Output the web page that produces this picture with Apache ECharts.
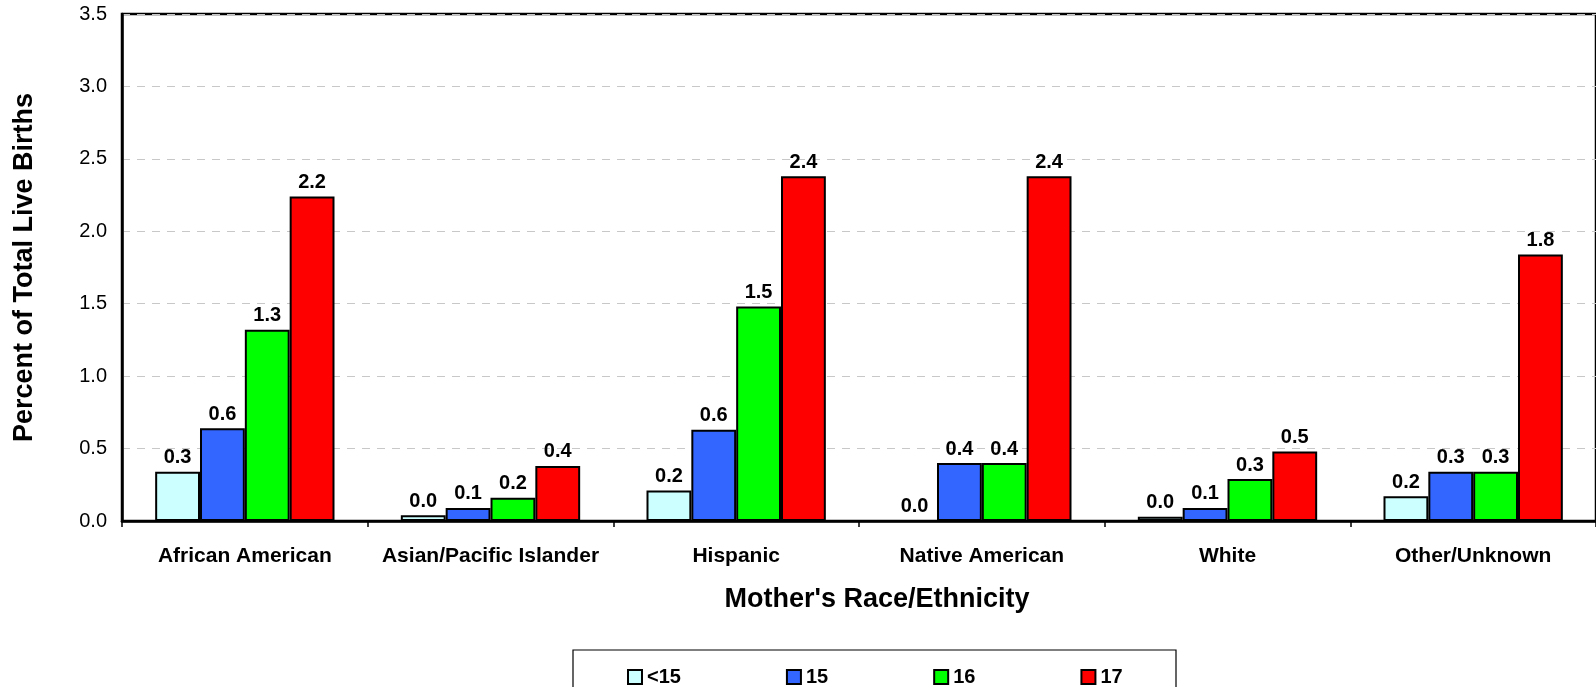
<!DOCTYPE html>
<html>
<head>
<meta charset="utf-8">
<script src="https://cdn.jsdelivr.net/npm/echarts@6/dist/echarts.min.js"></script>
<style>
html,body{margin:0;padding:0;background:#fff;}
#chart{width:1596px;height:687px;}
</style>
</head>
<body>
<div id="chart"></div>
<script>
const categories = ['African American', 'Asian/Pacific Islander', 'Hispanic', 'Native American', 'White', 'Other/Unknown'];
const seriesNames = ['<15', '15', '16', '17'];
const valuesUnder15 = [0.34, 0.04, 0.21, 0.0, 0.03, 0.17];
const values15 = [0.64, 0.09, 0.63, 0.40, 0.09, 0.34];
const values16 = [1.32, 0.16, 1.48, 0.40, 0.29, 0.34];
const values17 = [2.24, 0.38, 2.38, 2.38, 0.48, 1.84];
const yTicks = [0, 0.5, 1.0, 1.5, 2.0, 2.5, 3.0, 3.5];

const colors = ['#CCFFFF', '#3366FF', '#00FF00', '#FF0000'];
const allValues = [valuesUnder15, values15, values16, values17];
const FONT = '"Liberation Sans", Arial, sans-serif';

const chart = echarts.init(document.getElementById('chart'));
chart.setOption({
  animation: false,
  textStyle: { fontFamily: FONT },
  grid: { left: 122, top: 14, right: -10, bottom: 166, show: true, borderColor: '#000', borderWidth: 2.5, backgroundColor: 'transparent' },
  graphic: [{
    type: 'rect',
    shape: { x: 573, y: 650, width: 603, height: 50 },
    style: { fill: '#fff', stroke: '#000', lineWidth: 1.2 },
    z: 0
  }],
  legend: {
    data: seriesNames,
    left: 622,
    top: 662,
    itemWidth: 14,
    itemHeight: 14,
    itemGap: 105,
    icon: 'rect',
    z: 10,
    textStyle: { fontFamily: FONT, fontSize: 20, fontWeight: 'bold', color: '#000', padding: [0, 0, 0, 0] }
  },
  xAxis: {
    type: 'category',
    data: categories,
    name: "Mother's Race/Ethnicity",
    nameLocation: 'middle',
    nameGap: 65,
    nameTextStyle: { fontFamily: FONT, fontSize: 27, fontWeight: 'bold', color: '#000', padding: [0, 0, 0, 36] },
    axisLine: { lineStyle: { color: '#000', width: 2.5 } },
    axisTick: { show: true, interval: 0, length: 6, lineStyle: { color: '#000', width: 1.5 } },
    axisLabel: { interval: 0, fontFamily: FONT, fontSize: 21, fontWeight: 'bold', color: '#000', margin: 25 }
  },
  yAxis: {
    type: 'value',
    min: 0,
    max: 3.5,
    interval: 0.5,
    name: 'Percent of Total Live Births',
    nameLocation: 'middle',
    nameGap: 84,
    nameTextStyle: { fontFamily: FONT, fontSize: 27, fontWeight: 'bold', color: '#000' },
    axisLine: { show: true, lineStyle: { color: '#000', width: 2.5 } },
    axisTick: { show: false },
    splitLine: { lineStyle: { color: '#c8c8c8', type: [8, 7], width: 1 } },
    axisLabel: {
      fontFamily: FONT, fontSize: 20, color: '#000', margin: 15,
      formatter: v => yTicks.includes(v) ? v.toFixed(1) : ''
    }
  },
  series: seriesNames.map((n, i) => ({
    name: n,
    type: 'bar',
    data: allValues[i],
    barGap: '0%',
    barCategoryGap: '27%',
    itemStyle: { color: colors[i], borderColor: '#000', borderWidth: 2 },
    label: {
      show: true,
      position: 'top',
      distance: 4,
      fontFamily: FONT, fontSize: 20, fontWeight: 'bold', color: '#000',
      formatter: p => p.value.toFixed(1)
    }
  }))
});
</script>
</body>
</html>
